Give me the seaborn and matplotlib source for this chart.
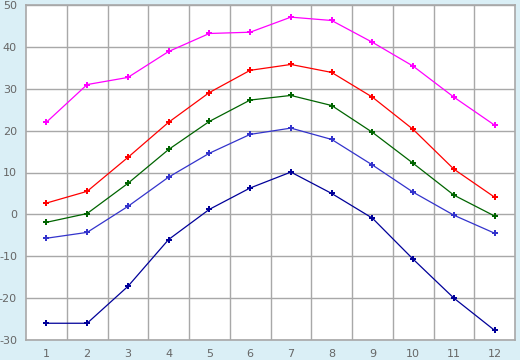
import matplotlib
matplotlib.use("Agg")
import matplotlib.pyplot as plt
import numpy as np
import pandas as pd
import seaborn as sns

sns.set_style("white")
plt.rcParams['font.family'] = ['DejaVu Sans']
plt.rcParams['axes.unicode_minus'] = False

# Data
months = [1, 2, 3, 4, 5, 6, 7, 8, 9, 10, 11, 12]
series_max = [22.0, 31.0, 32.7, 38.9, 43.2, 43.5, 47.1, 46.3, 41.1, 35.4, 28.0, 21.3]
series_high = [2.7, 5.5, 13.6, 22.0, 29.1, 34.4, 35.8, 33.9, 28.0, 20.3, 10.8, 4.1]
series_mean = [-1.9, 0.2, 7.4, 15.5, 22.2, 27.3, 28.4, 26.0, 19.6, 12.2, 4.6, -0.4]
series_low = [-5.7, -4.3, 1.9, 8.9, 14.6, 19.1, 20.6, 17.9, 11.8, 5.3, -0.2, -4.5]
series_min = [-26.0, -26.0, -17.2, -6.0, 1.2, 6.3, 10.1, 5.0, -0.9, -10.7, -20.0, -27.7]
y_ticks = [-30, -20, -10, 0, 10, 20, 30, 40, 50]

df = pd.DataFrame({
    'month': months * 5,
    'value': series_max + series_high + series_mean + series_low + series_min,
    'series': ['max'] * 12 + ['high'] * 12 + ['mean'] * 12 + ['low'] * 12 + ['min'] * 12,
})
palette = {'max': '#ff00ff', 'high': '#ff0000', 'mean': '#006400',
           'low': '#3333cc', 'min': '#000099'}

bg = '#daeff6'
grid_c = '#a8a8a8'
text_c = '#666666'

fig = plt.figure(figsize=(5.2, 3.6), dpi=100, facecolor=bg)
ax = fig.add_axes([26 / 520, 20 / 360, 489 / 520, 335 / 360])
ax.set_facecolor('white')

sns.lineplot(data=df, x='month', y='value', hue='series', palette=palette,
             marker='P', markersize=5, markeredgewidth=0, linewidth=0.9,
             legend=False, ax=ax)

ax.set_xlim(0.5, 12.5)
ax.set_ylim(-30, 50)
ax.set_xticks(months)
ax.set_xticks(np.arange(1.5, 12, 1), minor=True)
ax.set_yticks(y_ticks)
ax.set_xlabel('')
ax.set_ylabel('')

ax.grid(True, which='minor', axis='x', color=grid_c, linewidth=1)
ax.grid(True, which='major', axis='y', color=grid_c, linewidth=1)
ax.grid(False, which='major', axis='x')
ax.set_axisbelow(True)

ax.tick_params(axis='both', which='major', direction='out', length=5, width=1,
               color=grid_c, labelcolor=text_c, labelsize=8, pad=1.5)
ax.tick_params(axis='x', which='minor', length=0)
for s in ax.spines.values():
    s.set_color(grid_c)
    s.set_linewidth(1.2)

fig.savefig('out.png', dpi=100, facecolor=bg)
